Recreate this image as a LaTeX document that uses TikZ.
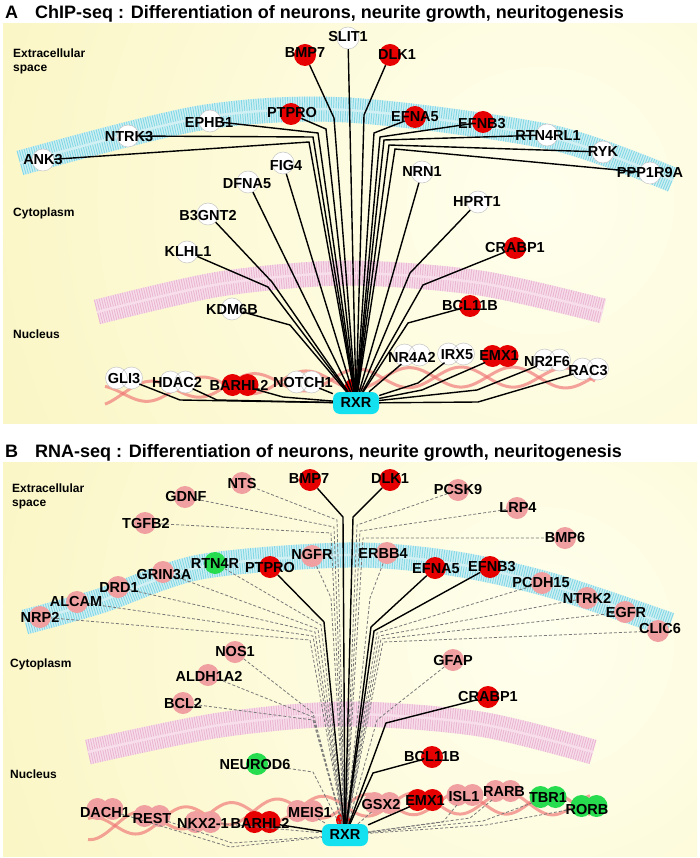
\documentclass[tikz,border=0pt]{standalone}
\usepackage{fontspec}
\setmainfont{Liberation Sans}
\usetikzlibrary{shapes.geometric}
\definecolor{bgY}{RGB}{249,243,184}
\definecolor{bgW}{RGB}{255,255,238}
\definecolor{nred}{RGB}{230,0,0}
\definecolor{npink}{RGB}{240,160,160}
\definecolor{ngreen}{RGB}{40,220,80}
\definecolor{rxrc}{RGB}{20,225,240}
\definecolor{cyf}{RGB}{208,240,243}
\definecolor{cys}{RGB}{130,216,228}
\definecolor{pkf}{RGB}{247,222,234}
\definecolor{pks}{RGB}{234,182,210}
\definecolor{dnac}{RGB}{240,115,115}
\definecolor{dgray}{RGB}{120,120,120}
\newcommand{\trw}[3]{%
  \fill[white] (#2-7.5,#3) circle (11pt) (#2+7.5,#3) circle (11pt);
  \draw[gray!45, line width=0.5pt] (#2-7.5,#3) circle (11pt) (#2+7.5,#3) circle (11pt);
  \node[tr] (#1) at (#2,#3) {};}
\newcommand{\trf}[4]{%
  \fill[#4] (#2-7.5,#3) circle (11pt) (#2+7.5,#3) circle (11pt);
  \node[tr] (#1) at (#2,#3) {};}
\begin{document}
\begin{tikzpicture}[x=1pt,y=-1pt,
  nd/.style={circle, minimum size=22pt, inner sep=0pt},
  wn/.style={nd, fill=white, draw=gray!45, line width=0.5pt},
  rn/.style={nd, fill=nred},
  pn/.style={nd, fill=npink},
  gn/.style={nd, fill=ngreen},
  tr/.style={ellipse, minimum width=36pt, minimum height=22pt, inner sep=0pt},
  lab/.style={font=\bfseries\fontsize{14.5}{14.5}\selectfont, inner sep=0pt},
  reg/.style={font=\bfseries\fontsize{12}{14}\selectfont, inner sep=0pt, anchor=base west},
  ttl/.style={font=\bfseries\fontsize{18}{18}\selectfont, inner sep=0pt, anchor=base west},
  rxrs/.style={rectangle, rounded corners=7pt, fill=rxrc, minimum width=46pt, minimum height=22pt, inner sep=0pt, font=\bfseries\fontsize{14.5}{14.5}\selectfont},
  ed/.style={line width=1.4pt, black},
  dd/.style={line width=0.8pt, dgray, dash pattern=on 3pt off 2pt},
  cyb/.style={line width=25pt, cyf},
  cyd/.style={line width=25pt, cys, dash pattern=on 0.9pt off 1.5pt},
  cym/.style={line width=2.5pt, cyf},
  pkb/.style={line width=25pt, pkf},
  pkd/.style={line width=25pt, pks, dash pattern=on 0.9pt off 1.5pt},
  pkm/.style={line width=2.5pt, pkf},
  dna/.style={line width=3pt, dnac, opacity=0.65}
]
\useasboundingbox (0,0) rectangle (700,858);
\fill[white] (0,0) rectangle (700,858);
% backgrounds
\begin{scope}
\clip (3,24) rectangle (697,423);
\shade[inner color=bgW, outer color=bgY] (540,200) circle (760);
\end{scope}
\begin{scope}
\clip (3,462) rectangle (697,856);
\shade[inner color=bgW, outer color=bgY] (540,640) circle (760);
\end{scope}
% titles
\node[ttl] (tA) at (5,18.5) {A};
\node[ttl] (ttA) at (35,18.5) {ChIP-seq : Differentiation of neurons, neurite growth, neuritogenesis};
\node[ttl] (tB) at (5,457) {B};
\node[ttl] (ttB) at (35,457) {RNA-seq : Differentiation of neurons, neurite growth, neuritogenesis};
% region labels
\node[reg] (exA) at (13,58) {Extracellular};
\node[reg] (spA) at (13,72) {space};
\node[reg] (cyA) at (13,217) {Cytoplasm};
\node[reg] (nuA) at (13,338) {Nucleus};
\node[reg] (exB) at (12,492) {Extracellular};
\node[reg] (spB) at (12,506) {space};
\node[reg] (cyB) at (10,667) {Cytoplasm};
\node[reg] (nuB) at (10,778) {Nucleus};
% membranes A
\draw[cyb] plot[smooth] coordinates {(20,163) (200,118) (347,110) (550,137) (673,180)};
\draw[cyd] plot[smooth] coordinates {(20,163) (200,118) (347,110) (550,137) (673,180)};
\draw[cym] plot[smooth] coordinates {(20,163) (200,118) (347,110) (550,137) (673,180)};
\draw[pkb] plot[smooth] coordinates {(97,312) (220,284) (347,273) (480,283) (603,311)};
\draw[pkd] plot[smooth] coordinates {(97,312) (220,284) (347,273) (480,283) (603,311)};
\draw[pkm] plot[smooth] coordinates {(97,312) (220,284) (347,273) (480,283) (603,311)};
% membranes B
\draw[cyb] plot[smooth] coordinates {(25,622) (100,601) (200,567) (347,555) (450,563) (550,585) (670,625)};
\draw[cyd] plot[smooth] coordinates {(25,622) (100,601) (200,567) (347,555) (450,563) (550,585) (670,625)};
\draw[cym] plot[smooth] coordinates {(25,622) (100,601) (200,567) (347,555) (450,563) (550,585) (670,625)};
\draw[pkb] plot[smooth] coordinates {(88,752) (220,725) (347,714) (480,724) (593,752)};
\draw[pkd] plot[smooth] coordinates {(88,752) (220,725) (347,714) (480,724) (593,752)};
\draw[pkm] plot[smooth] coordinates {(88,752) (220,725) (347,714) (480,724) (593,752)};
% DNA
\draw[dna] plot[domain=105:595, samples=160, smooth] (\x, {377+1.3*((\x-480)/100)*((\x-480)/100)+10*sin(3.4615*(\x-123))});
\draw[dna] plot[domain=105:595, samples=160, smooth] (\x, {377+1.3*((\x-480)/100)*((\x-480)/100)-10*sin(3.4615*(\x-123))});
\draw[dna] plot[domain=88:590, samples=160, smooth] (\x, {803+1.7*((\x-480)/100)*((\x-480)/100)+11*sin(3.913*(\x-115))});
\draw[dna] plot[domain=88:590, samples=160, smooth] (\x, {803+1.7*((\x-480)/100)*((\x-480)/100)-11*sin(3.913*(\x-115))});
% ---------- Panel A nodes ----------
\node[wn] (slit1A) at (348,38) {};
\node[rn] (bmp7A) at (305,55) {};
\node[rn] (dlk1A) at (390,55) {};
\node[rn] (ptproA) at (291,114) {};
\node[wn] (ephb1A) at (210,121) {};
\node[wn] (ntrk3A) at (128,136) {};
\node[wn] (ank3A) at (43,160) {};
\node[rn] (efna5A) at (415,117) {};
\node[rn] (efnb3A) at (483,122) {};
\node[wn] (rtn4rl1A) at (547,135) {};
\node[wn] (rykA) at (603,152) {};
\node[wn] (ppp1r9aA) at (650,173) {};
\node[wn] (fig4A) at (283,163) {};
\node[wn] (dfna5A) at (248,182) {};
\node[wn] (b3gnt2A) at (208,214) {};
\node[wn] (klhl1A) at (187,252) {};
\node[wn] (kdm6bA) at (232,309) {};
\node[wn] (nrn1A) at (422,172) {};
\node[wn] (hprt1A) at (478,202) {};
\node[rn] (crabp1A) at (515,248) {};
\node[rn] (bcl11bA) at (470,306) {};
\trw{gli3A}{124}{378}
\trw{hdac2A}{178}{382}
\trf{barhl2A}{240}{385}{nred}
\trw{notch1A}{304}{382}
\trw{nr4a2A}{412}{355}
\trw{irx5A}{456}{354}
\trf{emx1A}{500}{356}{nred}
\trw{nr2f6A}{552}{360}
\trw{rac3A}{590}{369}
\fill[nred] (352,386) circle (7pt);
\node[rxrs] (rxrA) at (356,403) {RXR};
% ---------- Panel A edges ----------
\draw[ed] (ank3A) -- (309,142) -- (rxrA);
\draw[ed] (ntrk3A) -- (313,137) -- (rxrA);
\draw[ed] (ephb1A) -- (318,133) -- (rxrA);
\draw[ed] (ptproA) -- (326,129) -- (rxrA);
\draw[ed] (bmp7A) -- (334,118) -- (rxrA);
\draw[ed] (slit1A) -- (rxrA);
\draw[ed] (dlk1A) -- (364,115) -- (rxrA);
\draw[ed] (efna5A) -- (374,133) -- (rxrA);
\draw[ed] (efnb3A) -- (380,137) -- (rxrA);
\draw[ed] (rtn4rl1A) -- (384,140) -- (rxrA);
\draw[ed] (rykA) -- (389,145) -- (rxrA);
\draw[ed] (ppp1r9aA) -- (395,149) -- (rxrA);
\draw[ed] (fig4A) -- (rxrA);
\draw[ed] (dfna5A) -- (rxrA);
\draw[ed] (b3gnt2A) -- (272,282) -- (rxrA);
\draw[ed] (klhl1A) -- (268,287) -- (rxrA);
\draw[ed] (kdm6bA) -- (290,325) -- (rxrA);
\draw[ed] (nrn1A) -- (rxrA);
\draw[ed] (hprt1A) -- (410,273) -- (rxrA);
\draw[ed] (crabp1A) -- (423,285) -- (rxrA);
\draw[ed] (bcl11bA) -- (408,323) -- (rxrA);
\draw[ed] (gli3A) -- (180,400) -- (rxrA);
\draw[ed] (hdac2A) -- (217,400) -- (rxrA);
\draw[ed] (barhl2A) -- (283,397) -- (rxrA);
\draw[ed] (notch1A) -- (rxrA);
\draw[ed] (nr4a2A) -- (rxrA);
\draw[ed] (irx5A) -- (418,383) -- (rxrA);
\draw[ed] (emx1A) -- (422,390) -- (rxrA);
\draw[ed] (nr2f6A) -- (477,390) -- (rxrA);
\draw[ed] (rac3A) -- (478,402) -- (rxrA);
% ---------- Panel A labels ----------
\node[lab] at (348,37) {SLIT1};
\node[lab] at (305,53) {BMP7};
\node[lab] at (397,55) {DLK1};
\node[lab] at (292,113) {PTPRO};
\node[lab] at (209,123) {EPHB1};
\node[lab] at (129,137) {NTRK3};
\node[lab] at (43,160) {ANK3};
\node[lab] at (415,117) {EFNA5};
\node[lab] at (482,124) {EFNB3};
\node[lab] at (548,136) {RTN4RL1};
\node[lab] at (603,152) {RYK};
\node[lab] at (650,173) {PPP1R9A};
\node[lab] at (286,166) {FIG4};
\node[lab] at (247,184) {DFNA5};
\node[lab] at (208,216) {B3GNT2};
\node[lab] at (188,252) {KLHL1};
\node[lab] at (232,310) {KDM6B};
\node[lab] at (422,172) {NRN1};
\node[lab] at (477,202) {HPRT1};
\node[lab] at (515,248) {CRABP1};
\node[lab] at (470,306) {BCL11B};
\node[lab] at (124,379) {GLI3};
\node[lab] at (177,383) {HDAC2};
\node[lab] at (239,385) {BARHL2};
\node[lab] at (303,383) {NOTCH1};
\node[lab] at (412,357) {NR4A2};
\node[lab] at (457,355) {IRX5};
\node[lab] at (499,356) {EMX1};
\node[lab] at (547,362) {NR2F6};
\node[lab] at (588,371) {RAC3};
% ---------- Panel B nodes ----------
\node[pn] (ntsB) at (242,483) {};
\node[rn] (bmp7B) at (310,480) {};
\node[pn] (gdnfB) at (185,497) {};
\node[pn] (tgfb2B) at (145,523) {};
\node[rn] (dlk1B) at (390,480) {};
\node[pn] (pcsk9B) at (458,490) {};
\node[pn] (lrp4B) at (517,508) {};
\node[pn] (bmp6B) at (565,538) {};
\node[pn] (ngfrB) at (312,556) {};
\node[gn] (rtn4rB) at (215,563) {};
\node[rn] (ptproB) at (270,567) {};
\node[pn] (grin3aB) at (163,572) {};
\node[pn] (drd1B) at (118,587) {};
\node[pn] (alcamB) at (77,602) {};
\node[pn] (nrp2B) at (40,617) {};
\node[pn] (erbb4B) at (387,553) {};
\node[rn] (efna5B) at (435,568) {};
\node[rn] (efnb3B) at (490,567) {};
\node[pn] (pcdh15B) at (542,583) {};
\node[pn] (ntrk2B) at (587,598) {};
\node[pn] (egfrB) at (625,612) {};
\node[pn] (clic6B) at (658,631) {};
\node[pn] (nos1B) at (235,652) {};
\node[pn] (aldh1a2B) at (208,675) {};
\node[pn] (bcl2B) at (183,703) {};
\node[pn] (gfapB) at (453,660) {};
\node[rn] (crabp1B) at (488,697) {};
\node[gn] (neurod6B) at (257,764) {};
\node[rn] (bcl11bB) at (432,757) {};
\trf{dach1B}{105}{809}{npink}
\trf{restB}{152}{816}{npink}
\trf{nkx21B}{203}{822}{npink}
\trf{barhl2B}{262}{822}{nred}
\trf{meis1B}{305}{811}{npink}
\trf{gsx2B}{382}{803}{npink}
\trf{emx1B}{425}{800}{nred}
\trf{isl1B}{465}{795}{npink}
\trf{rarbB}{503}{791}{npink}
\trf{tbr1B}{548}{797}{ngreen}
\trf{rorbB}{589}{806}{ngreen}
\fill[nred] (343,820) circle (7pt);
\node[rxrs] (rxrB) at (345,835) {RXR};
% ---------- Panel B edges ----------
\draw[dd] (ntsB) -- (337,520) -- (rxrB);
\draw[dd] (gdnfB) -- (334,527) -- (rxrB);
\draw[dd] (tgfb2B) -- (331,533) -- (rxrB);
\draw[dd] (ngfrB) -- (331,598) -- (rxrB);
\draw[dd] (rtn4rB) -- (321,625) -- (rxrB);
\draw[dd] (grin3aB) -- (318,629) -- (rxrB);
\draw[dd] (drd1B) -- (315,632) -- (rxrB);
\draw[dd] (alcamB) -- (313,636) -- (rxrB);
\draw[dd] (nrp2B) -- (310,640) -- (rxrB);
\draw[dd] (pcsk9B) -- (357,525) -- (rxrB);
\draw[dd] (lrp4B) -- (360,531) -- (rxrB);
\draw[dd] (bmp6B) -- (363,538) -- (rxrB);
\draw[dd] (erbb4B) -- (370,598) -- (rxrB);
\draw[dd] (pcdh15B) -- (377,633) -- (rxrB);
\draw[dd] (ntrk2B) -- (379,636) -- (rxrB);
\draw[dd] (egfrB) -- (381,639) -- (rxrB);
\draw[dd] (clic6B) -- (383,642) -- (rxrB);
\draw[dd] (nos1B) -- (313,713) -- (rxrB);
\draw[dd] (aldh1a2B) -- (313,717) -- (rxrB);
\draw[dd] (bcl2B) -- (313,720) -- (rxrB);
\draw[dd] (gfapB) -- (377,720) -- (rxrB);
\draw[dd] (neurod6B) -- (313,772) -- (rxrB);
\draw[dd] (dach1B) -- (230,847) -- (rxrB);
\draw[dd] (restB) -- (232,843) -- (rxrB);
\draw[dd] (nkx21B) -- (rxrB);
\draw[dd] (meis1B) -- (rxrB);
\draw[dd] (gsx2B) -- (rxrB);
\draw[dd] (isl1B) -- (443,822) -- (rxrB);
\draw[dd] (rarbB) -- (470,818) -- (rxrB);
\draw[dd] (tbr1B) -- (483,821) -- (rxrB);
\draw[dd] (rorbB) -- (486,825) -- (rxrB);
\draw[ed] (bmp7B) -- (343,517) -- (rxrB);
\draw[ed] (dlk1B) -- (353,517) -- (rxrB);
\draw[ed] (ptproB) -- (324,622) -- (rxrB);
\draw[ed] (efna5B) -- (371,627) -- (rxrB);
\draw[ed] (efnb3B) -- (374,631) -- (rxrB);
\draw[ed] (crabp1B) -- (386,723) -- (rxrB);
\draw[ed] (bcl11bB) -- (373,773) -- (rxrB);
\draw[ed] (emx1B) -- (rxrB);
\draw[ed] (barhl2B) -- (rxrB);
% ---------- Panel B labels ----------
\node[lab] at (242,484) {NTS};
\node[lab] at (309,479) {BMP7};
\node[lab] at (186,497) {GDNF};
\node[lab] at (146,524) {TGFB2};
\node[lab] at (390,479) {DLK1};
\node[lab] at (458,490) {PCSK9};
\node[lab] at (518,508) {LRP4};
\node[lab] at (565,538) {BMP6};
\node[lab] at (312,555) {NGFR};
\node[lab] at (215,564) {RTN4R};
\node[lab] at (270,568) {PTPRO};
\node[lab] at (164,575) {GRIN3A};
\node[lab] at (119,588) {DRD1};
\node[lab] at (76,602) {ALCAM};
\node[lab] at (40,617) {NRP2};
\node[lab] at (383,554) {ERBB4};
\node[lab] at (436,569) {EFNA5};
\node[lab] at (492,567) {EFNB3};
\node[lab] at (541,583) {PCDH15};
\node[lab] at (587,598) {NTRK2};
\node[lab] at (626,613) {EGFR};
\node[lab] at (660,629) {CLIC6};
\node[lab] at (235,652) {NOS1};
\node[lab] at (209,676) {ALDH1A2};
\node[lab] at (183,704) {BCL2};
\node[lab] at (453,661) {GFAP};
\node[lab] at (488,697) {CRABP1};
\node[lab] at (255,764) {NEUROD6};
\node[lab] at (432,757) {BCL11B};
\node[lab] at (105,812) {DACH1};
\node[lab] at (152,818) {REST};
\node[lab] at (203,823) {NKX2-1};
\node[lab] at (260,823) {BARHL2};
\node[lab] at (310,812) {MEIS1};
\node[lab] at (381,804) {GSX2};
\node[lab] at (425,801) {EMX1};
\node[lab] at (464,796) {ISL1};
\node[lab] at (504,792) {RARB};
\node[lab] at (548,798) {TBR1};
\node[lab] at (587,809) {RORB};
\end{tikzpicture}
\end{document}
